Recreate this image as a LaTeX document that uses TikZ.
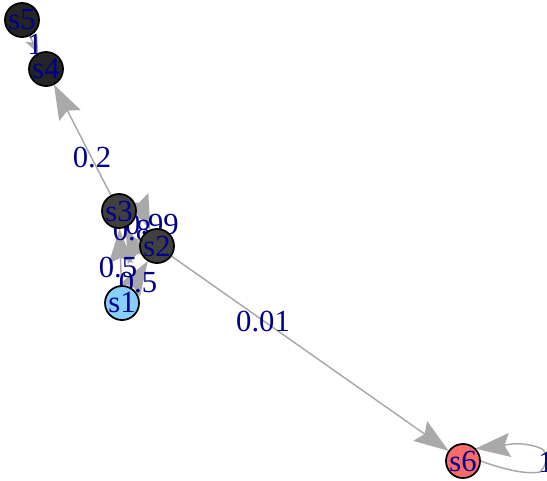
\documentclass[tikz,border=0pt]{standalone}
\usepackage{fontspec}
\setmainfont{Liberation Serif}
\usetikzlibrary{arrows.meta}
\definecolor{edgegray}{HTML}{A9A9A9}
\definecolor{darkA}{HTML}{252525}
\definecolor{darkB}{HTML}{404040}
\definecolor{sblue}{HTML}{87CEFA}
\definecolor{sred}{HTML}{F86B6B}
\definecolor{labblue}{HTML}{00008B}
\tikzset{
  st/.style={circle, draw=black, line width=1.3pt, minimum size=25pt, inner sep=0pt,
    font=\fontsize{23}{23}\selectfont, text=labblue},
  edge/.style={draw=edgegray, line width=1.1pt,
    -{Stealth[length=26pt,width=18pt,inset=4pt,color=edgegray]}},
  smalledge/.style={draw=edgegray, line width=1.1pt,
    -{Stealth[length=12pt,width=10pt,inset=3pt,color=edgegray]}},
  elab/.style={font=\fontsize{23}{23}\selectfont, text=labblue, inner sep=0pt}
}
\begin{document}
\begin{tikzpicture}[x=0.75pt,y=-0.75pt]
\useasboundingbox (0,0) rectangle (547,480);
% node positions
\coordinate (p5) at (22,20);
\coordinate (p4) at (46,69);
\coordinate (p3) at (119,211);
\coordinate (p2) at (157,246);
\coordinate (p1) at (122,303);
\coordinate (p6) at (463,461);
% invisible placeholders for edge routing
\node[st, draw=none] (s5) at (p5) {};
\node[st, draw=none] (s4) at (p4) {};
\node[st, draw=none] (s3) at (p3) {};
\node[st, draw=none] (s2) at (p2) {};
\node[st, draw=none] (s1) at (p1) {};
\node[st, draw=none] (s6) at (p6) {};
% edges
\draw[smalledge] (s5) -- (s4);
\draw[edge] (s3) -- (s4);
\draw[edge] (s1) -- (s3);
\draw[edge] (s1) -- (s2);
\draw[edge] (s3) to[bend left=25] (s2);
\draw[edge] (s2) to[bend left=25] (s3);
\draw[edge] (s2) -- (s6);
\coordinate (la) at (540,472);
\coordinate (lb) at (540,448);
\draw[edge] (s6.east) .. controls (500,468) and (525,475) .. (la)
  .. controls (548,465) and (548,450) .. (lb)
  .. controls (520,440) and (500,446) .. (s6.north east);
% edge labels
\node[elab] (l54) at (35,44) {1};
\node[elab] (l34) at (92,158) {0.2};
\node[elab] (l26) at (263,322) {0.01};
\node[elab] (l13) at (118,268) {0.5};
\node[elab] (l12) at (138,283) {0.5};
\node[elab] (l32) at (132,231) {0.8};
\node[elab] (l23) at (152,225) {0.99};
\node[elab, anchor=west] (l66) at (538,462) {1};
% nodes
\node[st, fill=darkA] (n5) at (p5) {s5};
\node[st, fill=darkA] (n4) at (p4) {s4};
\node[st, fill=darkB] (n3) at (p3) {s3};
\node[st, fill=darkB] (n2) at (p2) {s2};
\node[st, fill=sblue] (n1) at (p1) {s1};
\node[st, fill=sred] (n6) at (p6) {s6};
\end{tikzpicture}
\end{document}
